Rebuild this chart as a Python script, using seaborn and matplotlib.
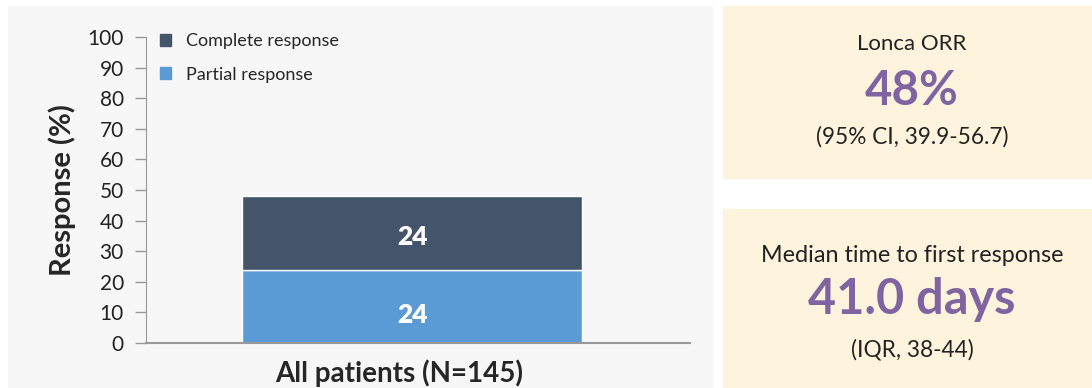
import matplotlib
matplotlib.use("Agg")
import matplotlib.pyplot as plt
from matplotlib.patches import Rectangle, Patch
from matplotlib.transforms import ScaledTranslation
import seaborn as sns
import pandas as pd

# Response data
categories = ["All patients (N=145)"]
partial_response = [24]
complete_response = [24]
yticks = list(range(0, 101, 10))

orr_title = "Lonca ORR"
orr_value = "48%"
orr_ci = "(95% CI, 39.9-56.7)"
ttr_title = "Median time to first response"
ttr_value = "41.0 days"
ttr_iqr = "(IQR, 38-44)"

dark_col = "#44546a"
light_col = "#5b9bd5"
purple = "#8064a2"
cream = "#fef4de"
panel_gray = "#f7f7f7"

sns.set_style("white")
plt.rcParams["font.family"] = ["Lato", "DejaVu Sans"]

fig = plt.figure(figsize=(10.92, 3.88), dpi=100)
W, H = 1092, 388

def fr(x0, y0, x1, y1, color):
    fig.patches.append(Rectangle((x0 / W, 1 - y1 / H), (x1 - x0) / W, (y1 - y0) / H,
                                 transform=fig.transFigure, color=color, zorder=-5))

fr(8, 6, 712, 388, panel_gray)
fr(723, 6, 1092, 178, cream)
fr(723, 209, 1092, 388, cream)

ax = fig.add_axes([146 / W, 1 - 343 / H, 544 / W, 306 / H])
ax.set_facecolor("none")

df = pd.DataFrame({"group": categories, "partial": partial_response, "complete": complete_response})
sns.barplot(data=df, x="group", y="partial", color=light_col, saturation=1, width=0.8, ax=ax)
sns.barplot(data=df, x="group", y="complete", bottom=df["partial"], color=dark_col,
            saturation=1, width=0.8, ax=ax)

for p, c in zip(partial_response, complete_response):
    ax.text(0, p / 2 - 3, f"{p}", ha="center", va="center", color="white", fontsize=19, fontweight="heavy")
    ax.text(0, p + c / 2 - 1.3, f"{c}", ha="center", va="center", color="white", fontsize=19, fontweight="heavy")

ax.set_xlim(-0.626, 0.654)
ax.set_ylim(0, 100)
ax.set_yticks(yticks)
ax.tick_params(axis="y", direction="out", length=8, width=1, color="#999999",
               labelsize=15, labelcolor="#222222", pad=8, left=True)
ax.tick_params(axis="x", length=0, labelsize=20, pad=12)
shift = ScaledTranslation(-13 / 100, 0, fig.dpi_scale_trans)
for lbl in ax.get_xticklabels():
    lbl.set_fontweight("bold")
    lbl.set_transform(lbl.get_transform() + shift)
ax.set_xlabel("")
ax.set_ylabel("Response (%)", fontsize=21, fontweight="bold", labelpad=8)
for s in ["top", "right"]:
    ax.spines[s].set_visible(False)
ax.spines["left"].set_color("#999999")
ax.spines["bottom"].set_color("#999999")
ax.spines["bottom"].set_linewidth(1.5)

handles = [Patch(color=dark_col, label="Complete response"),
           Patch(color=light_col, label="Partial response")]
ax.legend(handles=handles, loc="upper left", bbox_to_anchor=(-0.005, 1.065), frameon=False,
          fontsize=13, handlelength=0.65, handleheight=0.65, labelspacing=0.95, handletextpad=0.8)

cx = 912 / W
def ft(y, s, size, weight="normal", color="#222222"):
    fig.text(cx, 1 - y / H, s, ha="center", va="center", fontsize=size, fontweight=weight, color=color)

ft(44, orr_title, 16)
ft(91, orr_value, 34, "bold", purple)
ft(137, orr_ci, 16.3)
ft(255, ttr_title, 16.8)
ft(300, ttr_value, 35, "bold", purple)
ft(350, ttr_iqr, 16.3)

fig.savefig("out.png", dpi=100, facecolor="white")
